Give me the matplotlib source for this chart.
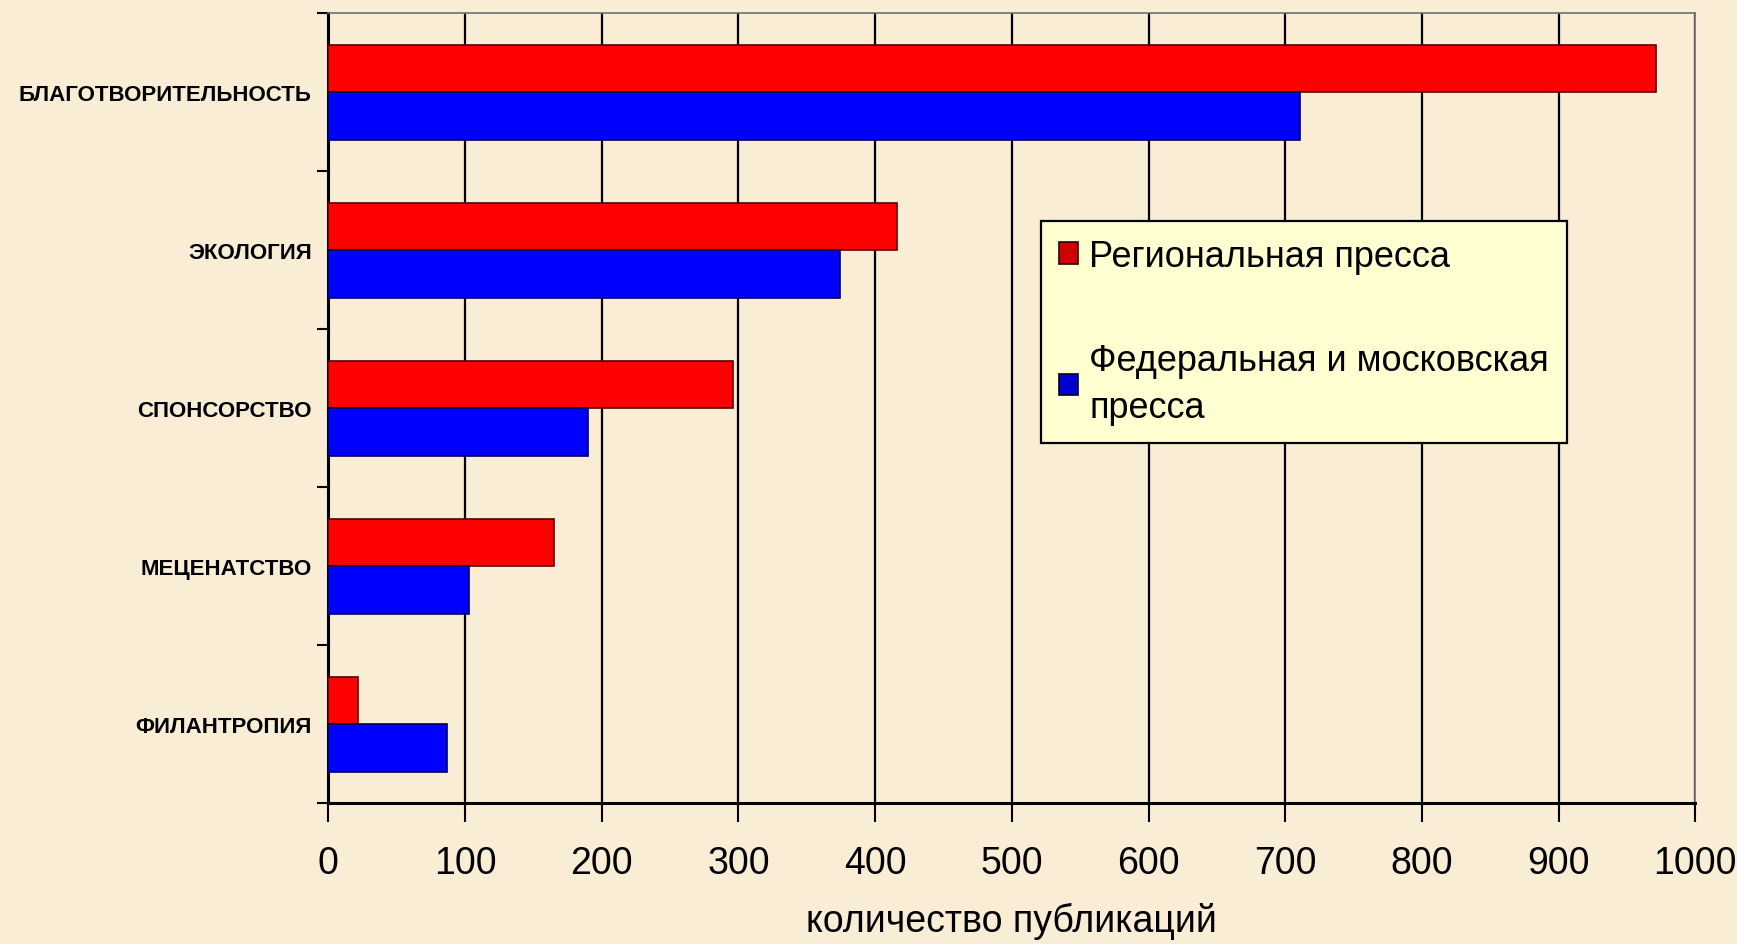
import matplotlib
matplotlib.use("Agg")
import matplotlib.pyplot as plt
from matplotlib.patches import Patch
import numpy as np

categories = ["БЛАГОТВОРИТЕЛЬНОСТЬ", "ЭКОЛОГИЯ", "СПОНСОРСТВО", "МЕЦЕНАТСТВО", "ФИЛАНТРОПИЯ"]
regional = [971, 416, 296, 165, 22]
federal = [711, 374, 190, 103, 87]
series_names = ["Региональная пресса", "Федеральная и московская\nпресса"]
x_ticks = [0, 100, 200, 300, 400, 500, 600, 700, 800, 900, 1000]
x_label = "количество публикаций"

bg = "#f9edd6"
fig = plt.figure(figsize=(17.37, 9.45), dpi=100, facecolor=bg)
ax = fig.add_axes([0.189, 0.149, 0.787, 0.836])
ax.set_facecolor(bg)

y = np.arange(len(categories))
h = 0.3
ax.barh(y - h / 2, regional, height=h, color="#ff0000", edgecolor="#5a0000", linewidth=1.2, zorder=3)
ax.barh(y + h / 2, federal, height=h, color="#0000ff", edgecolor="#00005a", linewidth=1.2, zorder=3)

ax.set_xlim(0, 1000)
ax.set_ylim(len(categories) - 0.5, -0.5)

narrow = ["Liberation Sans Narrow", "Liberation Sans", "DejaVu Sans"]
ax.set_xticks(x_ticks)
ax.set_xticklabels([str(v) for v in x_ticks], family=narrow, fontsize=27)
ax.tick_params(axis="x", direction="out", length=14, width=1.5, color="black", pad=16)
ax.xaxis.grid(True, color="black", linewidth=1.6, zorder=1)
ax.set_axisbelow(True)

ax.set_yticks(y)
ax.set_yticklabels(categories, family=["Liberation Sans", "DejaVu Sans"], fontweight="bold", fontsize=16)
ax.tick_params(axis="y", which="major", length=0, pad=12)
ax.set_yticks(np.arange(-0.5, len(categories) + 0.5, 1), minor=True)
ax.tick_params(axis="y", which="minor", direction="out", length=8, width=1.5, color="black")

ax.set_xlabel(x_label, family=narrow, fontsize=27, labelpad=15)

for s in ["left", "bottom"]:
    ax.spines[s].set_color("black")
    ax.spines[s].set_linewidth(2.2)
for s in ["top", "right"]:
    ax.spines[s].set_color("#707070")
    ax.spines[s].set_linewidth(1.2)

handles = [Patch(facecolor="#d00000", edgecolor="#300000", linewidth=1.2),
           Patch(facecolor="#0000d0", edgecolor="#000030", linewidth=1.2)]
leg = ax.legend(handles, series_names, loc="upper left", bbox_to_anchor=(0.521, 0.737),
                prop={"family": ["Liberation Sans", "DejaVu Sans"], "size": 26},
                frameon=True, fancybox=False, edgecolor="black", facecolor="#ffffd2",
                framealpha=1, handlelength=0.55, handleheight=0.55, handletextpad=0.3,
                labelspacing=1.9, borderpad=0.5, borderaxespad=0)
leg.get_frame().set_linewidth(1.6)
leg.get_texts()[1].set_linespacing(1.45)
leg.set_zorder(5)

fig.savefig("out.png", dpi=100, facecolor=bg)
